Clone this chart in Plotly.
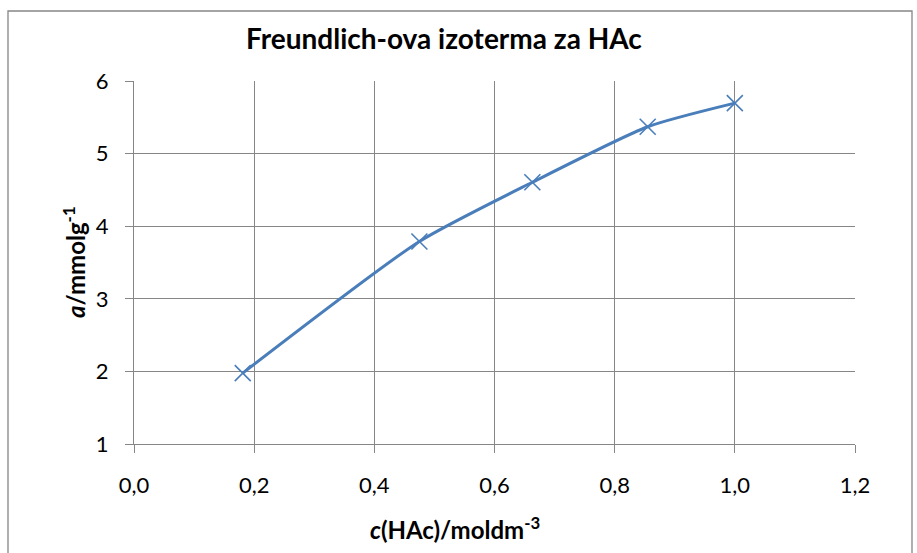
import plotly.graph_objects as go

c_hac = [0.181, 0.475, 0.663, 0.855, 1.0]
a_vals = [1.977, 3.79, 4.605, 5.37, 5.695]
x_ticks = [0.0, 0.2, 0.4, 0.6, 0.8, 1.0, 1.2]
x_tick_labels = ["0,0", "0,2", "0,4", "0,6", "0,8", "1,0", "1,2"]
y_ticks = [1, 2, 3, 4, 5, 6]

title_text = "<b>Freundlich-ova izoterma za HAc</b>"
x_title = "<b><i>c</i>(HAc)/moldm<sup>-3</sup></b>"
y_title = "<b><i>a</i>/mmolg<sup>-1</sup></b>"

FONT = "Lato"
blue = "#4A7EBB"
grid = "#868686"

fig = go.Figure()
fig.add_trace(go.Scatter(
    x=c_hac, y=a_vals, mode="lines+markers",
    line=dict(color=blue, width=3, shape="spline", smoothing=0.6),
    marker=dict(symbol="x-thin", size=16, line=dict(color=blue, width=1.6)),
    showlegend=False, hoverinfo="x+y",
))

L, R, T, B = 134, 62, 81, 109
W, H = 917, 553
pw, ph = W - L - R, H - T - B

def px(xp):
    return (xp - L) / pw

def py(yp):
    return (H - B - yp) / ph

fig.update_layout(
    width=W, height=H,
    margin=dict(l=L, r=R, t=T, b=B),
    paper_bgcolor="white", plot_bgcolor="white",
    font=dict(family=FONT, size=22, color="black"),
    xaxis=dict(range=[0, 1.2], tickvals=x_ticks, ticktext=x_tick_labels,
               showgrid=True, gridcolor=grid, gridwidth=1,
               showline=True, linecolor=grid, linewidth=1,
               ticks="outside", ticklen=8, tickcolor=grid,
               ticklabelstandoff=14,
               zeroline=False, fixedrange=True),
    yaxis=dict(range=[1, 6], tickvals=y_ticks,
               showgrid=True, gridcolor=grid, gridwidth=1,
               showline=True, linecolor=grid, linewidth=1,
               ticks="outside", ticklen=8, tickcolor=grid,
               ticklabelstandoff=12,
               zeroline=False, fixedrange=True),
    shapes=[dict(type="rect", xref="paper", yref="paper",
                 x0=px(8), x1=px(912), y0=py(562), y1=py(11),
                 line=dict(color=grid, width=1.3), fillcolor="rgba(0,0,0,0)")],
    annotations=[
        dict(text=title_text, xref="paper", yref="paper", x=px(444), y=py(38),
             showarrow=False, font=dict(size=28, family=FONT), xanchor="center", yanchor="middle"),
        dict(text=x_title, xref="paper", yref="paper", x=px(455), y=py(528),
             showarrow=False, font=dict(size=24, family=FONT), xanchor="center", yanchor="middle"),
        dict(text=y_title, xref="paper", yref="paper", x=px(74), y=py(262),
             showarrow=False, font=dict(size=24, family=FONT), textangle=-90,
             xanchor="center", yanchor="middle"),
    ],
)

fig.write_html("out.html", config={"displayModeBar": False},
               post_script="document.body.style.margin='0';")
